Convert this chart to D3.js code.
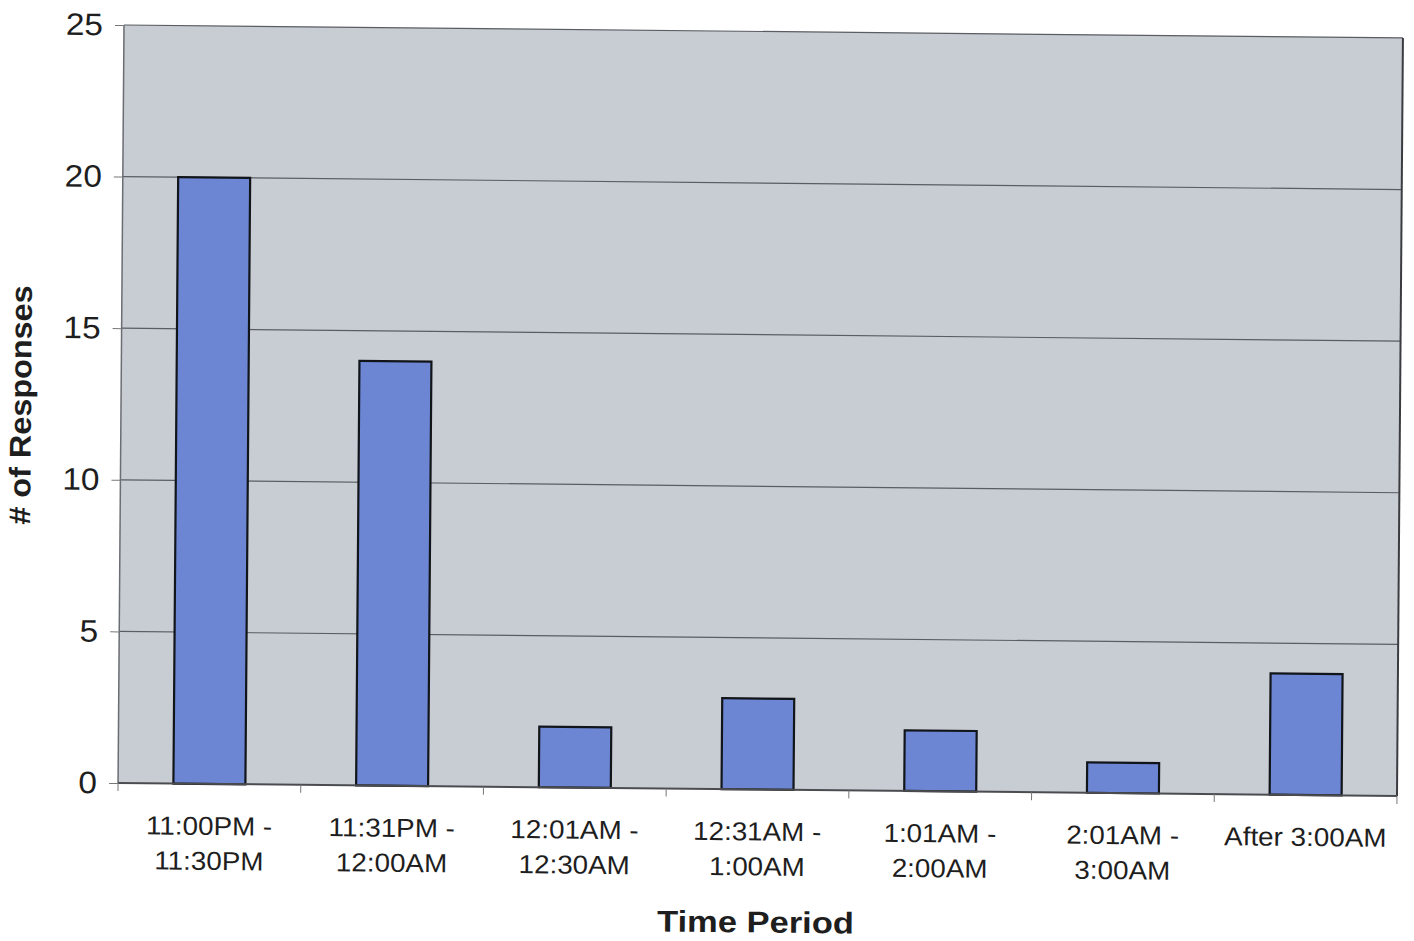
<!DOCTYPE html>
<html>
<head>
<meta charset="utf-8">
<script src="https://cdn.jsdelivr.net/npm/d3@7"></script>
<style>
  html, body { margin: 0; padding: 0; background: #fff; }
  svg { display: block; }
</style>
</head>
<body>
<svg id="chart" width="1414" height="941"></svg>
<script>
// Responses per time period
const categories = [
  ["11:00PM -", "11:30PM"],
  ["11:31PM -", "12:00AM"],
  ["12:01AM -", "12:30AM"],
  ["12:31AM -", "1:00AM"],
  ["1:01AM -", "2:00AM"],
  ["2:01AM -", "3:00AM"],
  ["After 3:00AM"]
];
const responses = [20, 14, 2, 3, 2, 1, 4];
const yTicks = [0, 5, 10, 15, 20, 25];

const svg = d3.select("#chart");
const W = 1414, H = 941;
svg.append("rect").attr("width", W).attr("height", H).attr("fill", "#ffffff");

const plotLeft = 124, plotTop = 25, plotW = 1279, plotH = 758;
const FONT = "Liberation Sans, Arial, sans-serif";
const INK = "#1e1e1e";

// the whole page sits slightly tilted
const g = svg.append("g")
  .attr("transform", `translate(${plotLeft},${plotTop}) rotate(0.45) skewY(0.13)`);

const x = d3.scaleBand()
  .domain(d3.range(categories.length))
  .range([0, plotW])
  .paddingInner(0.606)
  .paddingOuter(0.303);

const y = d3.scaleLinear().domain([0, 25]).range([plotH, 0]);

// plot background
g.append("rect")
  .attr("width", plotW).attr("height", plotH)
  .attr("fill", "#c8cdd3");

// horizontal gridlines
g.append("g").selectAll("line")
  .data(yTicks.filter(d => d > 0))
  .join("line")
  .attr("x1", 0).attr("x2", plotW)
  .attr("y1", d => y(d)).attr("y2", d => y(d))
  .attr("stroke", "#5a5d62").attr("stroke-width", 1.2);

// plot frame
g.append("line").attr("x1", 0).attr("x2", 0).attr("y1", 0).attr("y2", plotH)
  .attr("stroke", "#6a6d72").attr("stroke-width", 1.5);
g.append("line").attr("x1", plotW).attr("x2", plotW).attr("y1", 0).attr("y2", plotH)
  .attr("stroke", "#3a3c40").attr("stroke-width", 2);

// bars
g.append("g").selectAll("rect")
  .data(responses)
  .join("rect")
  .attr("x", (d, i) => x(i))
  .attr("width", x.bandwidth())
  .attr("y", d => y(d))
  .attr("height", d => plotH - y(d))
  .attr("fill", "#6c86d3")
  .attr("stroke", "#111418")
  .attr("stroke-width", 2.2);

// y axis
const yAxis = g.append("g")
  .call(d3.axisLeft(y).tickValues(yTicks).tickSize(9).tickPadding(12));
yAxis.select(".domain").remove();
yAxis.selectAll(".tick line").attr("stroke", "#777").attr("stroke-width", 1);
yAxis.selectAll(".tick text")
  .attr("font-family", FONT)
  .attr("font-size", 31)
  .attr("fill", INK)
  .attr("transform", "translate(-21,0) scale(1.08,1) translate(21,0)");

// x axis baseline and category boundary ticks
g.append("line").attr("x1", 0).attr("x2", plotW).attr("y1", plotH).attr("y2", plotH)
  .attr("stroke", "#4a4c50").attr("stroke-width", 2);
g.append("g").selectAll("line")
  .data(d3.range(categories.length + 1))
  .join("line")
  .attr("x1", i => i * plotW / categories.length)
  .attr("x2", i => i * plotW / categories.length)
  .attr("y1", plotH).attr("y2", plotH + 8)
  .attr("stroke", "#777").attr("stroke-width", 1);

// category labels (slightly wide lettering)
const lbl = g.append("g").selectAll("g")
  .data(categories)
  .join("g")
  .attr("transform", (d, i) => `translate(${x(i) + x.bandwidth() / 2},${plotH + 51}) scale(1.07,1)`)
  .append("text")
  .attr("text-anchor", "middle")
  .attr("font-family", FONT)
  .attr("font-size", 26)
  .attr("fill", INK);
lbl.selectAll("tspan")
  .data(d => d)
  .join("tspan")
  .attr("x", 0)
  .attr("dy", (d, i) => i === 0 ? 0 : 35)
  .text(d => d);

// axis titles
g.append("text")
  .attr("transform", `translate(${plotW / 2 - 1},${plotH + 143}) scale(1.15,1)`)
  .attr("text-anchor", "middle")
  .attr("font-family", FONT)
  .attr("font-weight", "bold")
  .attr("font-size", 30)
  .attr("fill", INK)
  .text("Time Period");

g.append("text")
  .attr("transform", `translate(${-90},${plotH / 2 + 2}) rotate(-90) scale(1.08,1)`)
  .attr("text-anchor", "middle")
  .attr("font-family", FONT)
  .attr("font-weight", "bold")
  .attr("font-size", 30)
  .attr("fill", INK)
  .text("# of Responses");
</script>
</body>
</html>
